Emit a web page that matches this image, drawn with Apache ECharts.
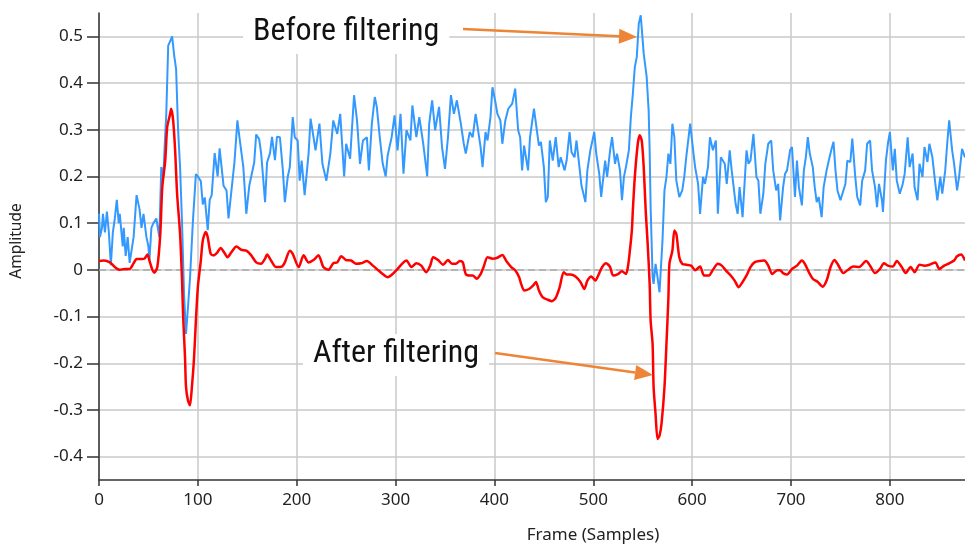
<!DOCTYPE html>
<html>
<head>
<meta charset="utf-8">
<script src="https://cdn.jsdelivr.net/npm/echarts@6/dist/echarts.min.js"></script>
<style>html,body{margin:0;padding:0;background:#fff}#c{width:965px;height:545px}</style>
</head>
<body>
<div id="c"></div>
<script>
var xTicks = [0, 100, 200, 300, 400, 500, 600, 700, 800];
var yTicks = [-0.4, -0.3, -0.2, -0.1, 0, 0.1, 0.2, 0.3, 0.4, 0.5];
var seriesNames = ['Before filtering', 'After filtering'];

var beforeFiltering = [
[0,0.12],[1,0.07],[3,0.09],[4,0.12],[6,0.08],[8,0.125],[10,0.08],[12,0.01],[14,0.08],[16,0.11],[18,0.15],[20,0.1],[21,0.12],[24,0.05],[25,0.09],[27,0.03],[29,0.07],[31,0.015],[35,0.07],[38,0.16],[41,0.13],[43,0.09],[45,0.12],[48,0.07],[50,0.05],[51,0.02],[53,0.09],[55,0.1],[58,0.11],[61,0.07],[63,0.22],[65,0.2],[67,0.29],[68,0.33],[70,0.48],[72,0.49],[74,0.5],[76,0.46],[78,0.43],[80,0.3],[82,0.22],[84,0.1],[86,-0.05],[88,-0.137],[90,-0.08],[92,-0.02],[95,0.105],[98,0.205],
[100,0.2],[103,0.19],[105,0.14],[107,0.155],[110,0.085],[112,0.15],[114,0.16],[117,0.25],[120,0.2],[122,0.26],[126,0.18],[129,0.17],[131,0.11],[134,0.17],[137,0.23],[140,0.32],[142,0.285],[146,0.22],[149,0.12],[152,0.18],[154,0.18],[157,0.23],[159,0.29],[162,0.28],[164,0.25],[168,0.145],[170,0.23],[173,0.25],[175,0.285],[178,0.235],[180,0.285],
[183,0.284],[186,0.213],[188,0.145],[191,0.2],[193,0.22],[196,0.327],[198,0.284],[201,0.277],[203,0.191],[205,0.234],[208,0.16],[212,0.249],[214,0.324],[217,0.284],[219,0.256],[223,0.313],[226,0.227],[230,0.191],[234,0.249],[237,0.32],[241,0.291],[244,0.334],[248,0.2],[250,0.27],[254,0.238],[258,0.374],[261,0.32],[264,0.227],[267,0.277],[271,0.284],[273,0.213],[276,0.313],[279,0.37],[281,0.349],[284,0.284],[287,0.227],[290,0.2],[292,0.245],[296,0.284],[299,0.331],[302,0.256],[305,0.334],[308,0.206],[311,0.299],[315,0.277],[317,0.352],[321,0.284],[324,0.327],[328,0.27],[332,0.2],[334,0.313],[337,0.363],[340,0.299],[344,0.349],[347,0.263],[350,0.216],[353,0.284],[356,0.374],[359,0.334],[362,0.363],
[366,0.313],[369,0.27],[371,0.249],[375,0.295],[378,0.284],[381,0.334],[383,0.338],[386,0.263],[388,0.22],[391,0.295],[393,0.277],[396,0.327],[398,0.391],[401,0.359],[403,0.334],[406,0.32],[408,0.27],[411,0.32],[414,0.345],[418,0.356],[421,0.388],[424,0.299],[426,0.284],[428,0.213],[430,0.266],[434,0.213],[436,0.284],[440,0.345],[442,0.313],[445,0.266],[447,0.274],[450,0.22],[452,0.145],[454,0.156],[456,0.277],[459,0.234],[462,0.284],[465,0.22],[467,0.241],[471,0.213],[473,0.234],[476,0.295],[478,0.252],[481,0.241],[483,0.277],[486,0.22],[488,0.181],[492,0.145],[494,0.213],[497,0.256],[501,0.295],[503,0.249],[506,0.206],[508,0.156],[512,0.234],[514,0.199],
[517,0.256],[519,0.284],[522,0.227],[524,0.249],[527,0.213],[529,0.149],[531,0.199],[533,0.22],[536,0.256],[538,0.327],[540,0.377],[542,0.434],[544,0.456],[546,0.527],[548,0.545],[550,0.541],[551,0.463],[554,0.413],[556,0.341],[557,0.256],[558,0.134],[560,-0.016],[561,-0.03],[563,0.013],[565,-0.016],[567,-0.048],[570,0.063],[572,0.17],[574,0.199],[576,0.249],[578,0.227],[580,0.313],[582,0.284],[584,0.191],[587,0.156],[590,0.17],[592,0.199],[594,0.241],[598,0.313],[601,0.256],[603,0.22],[606,0.184],[608,0.12],[611,0.199],[613,0.184],[616,0.22],[618,0.284],[621,0.256],[624,0.277],[626,0.12],[629,0.241],[633,0.227],[635,0.184],[638,0.256],[640,0.213],[644,0.141],[646,0.12],[648,0.177],[651,0.113],[655,0.256],[657,0.227],[659,0.234],[662,0.291],[665,0.199],[667,0.191],[669,0.12],[672,0.163],[674,0.227],[677,0.27],[680,0.277],[682,0.213],[685,0.17],[687,0.184],[689,0.106],
[692,0.177],[694,0.206],[696,0.213],[699,0.256],[701,0.263],[704,0.156],[706,0.234],[708,0.177],[711,0.138],[713,0.213],[715,0.241],[717,0.284],[719,0.249],[722,0.22],[724,0.177],[726,0.145],[728,0.156],[731,0.113],[733,0.177],[736,0.213],[739,0.241],[741,0.259],[743,0.274],[745,0.213],[747,0.17],[750,0.149],[753,0.17],[755,0.184],[757,0.234],[760,0.231],[762,0.281],[765,0.199],[767,0.156],[770,0.138],[772,0.191],[775,0.213],[777,0.27],[780,0.277],[782,0.213],[785,0.177],[787,0.134],[789,0.184],[792,0.149],[793,0.124],[796,0.234],[798,0.27],[800,0.295],[803,0.213],[805,0.259],[807,0.191],[810,0.163],[813,0.184],[815,0.206],[818,0.284],[820,0.22],[823,0.249],[825,0.177],[828,0.149],[830,0.227],[833,0.199],[835,0.263],[838,0.231],[840,0.27],[843,0.241],[846,0.184],[848,0.149],[851,0.199],[853,0.163],[856,0.213],[858,0.27],[860,0.32],[863,0.256],[865,0.227],[868,0.17],[870,0.199],[873,0.259],[876,0.241]
];

var afterFiltering = [
[0,0.019],[5,0.02],[11,0.016],[16,0.006],[21,0],[26,0.002],[31,0.002],[35,0.014],[38,0.023],[43,0.023],[46,0.024],[49,0.033],[51,0.02],[54,0],[56,-0.006],[59,0.006],[62,0.077],[64,0.177],[67,0.234],[69,0.306],[72,0.334],[73,0.345],[75,0.32],[77,0.256],[79,0.163],[82,0.077],[84,-0.023],[85,-0.094],[87,-0.187],[88,-0.25],[90,-0.28],[92,-0.29],[94,-0.25],[96,-0.194],[98,-0.109],[100,-0.037],[103,0.02],[105,0.063],[108,0.081],[110,0.07],[113,0.034],[116,0.031],[120,0.038],[123,0.047],[127,0.036],[130,0.027],[134,0.038],[139,0.05],[144,0.043],[149,0.041],[154,0.031],[159,0.016],[164,0.013],[168,0.024],[170,0.033],[174,0.02],[179,0.006],[185,0.007],[188,0.016],
[193,0.041],[196,0.034],[202,0.006],[207,0.031],[212,0.016],[217,0.021],[222,0.031],[227,0.006],[232,0],[237,0.014],[241,0.016],[245,0.029],[250,0.021],[255,0.02],[260,0.013],[265,0.014],[271,0.019],[277,0.009],[282,0],[287,-0.009],[292,-0.016],[297,-0.009],[302,0.002],[307,0.014],[311,0.02],[316,0.006],[321,0.014],[326,0.009],[331,-0.005],[335,0.009],[338,0.027],[343,0.021],[348,0.011],[353,0.021],[357,0.013],[361,0.013],
[365,0.019],[368,0.016],[371,-0.009],[375,-0.012],[378,-0.012],[382,-0.019],[386,-0.009],[389,0.006],[393,0.027],[398,0.024],[403,0.026],[408,0.032],[412,0.019],[417,0.006],[421,-0.001],[425,-0.016],[427,-0.03],[430,-0.044],[435,-0.041],[439,-0.034],[442,-0.026],[445,-0.044],[449,-0.059],[454,-0.064],[458,-0.067],[462,-0.06],[466,-0.037],[470,-0.005],[473,-0.01],[477,-0.01],[482,-0.014],[487,-0.026],[491,-0.041],[494,-0.023],[498,-0.014],[502,-0.023],[505,-0.012],[509,0.006],[513,0.014],
[517,0.006],[520,-0.012],[525,-0.009],[529,-0.003],[533,-0.009],[535,0.006],[537,0.041],[539,0.084],[540,0.127],[542,0.199],[545,0.27],[547,0.288],[549,0.277],[551,0.22],[553,0.127],[555,0.056],[557,-0.03],[558,-0.109],[560,-0.159],[561,-0.251],[563,-0.309],[565,-0.362],[567,-0.355],[569,-0.33],[572,-0.251],[574,-0.159],[576,-0.059],[577,0.013],[580,0.041],[582,0.084],[584,0.077],[587,0.027],[590,0.013],[594,0.011],[599,0.009],[603,-0.001],[608,0.007],[612,-0.012],[617,-0.012],[621,0],[626,0.013],[630,0.009],[634,-0.001],[639,-0.012],[643,-0.023],[647,-0.037],[651,-0.026],[655,-0.012],[659,0.006],[663,0.016],[668,0.019],[673,0.02],[677,0.009],[681,-0.009],[686,-0.001],
[689,-0.001],[692,-0.007],[696,-0.01],[701,0.002],[706,0.009],[711,0.02],[714,0.013],[718,-0.005],[722,-0.019],[727,-0.026],[732,-0.036],[736,-0.023],[740,0.006],[744,0.021],[747,0.013],[753,-0.007],[757,-0.001],[763,0.007],[769,0.006],[776,0.019],[780,0.009],[785,-0.007],[790,0.002],[794,0.014],[798,0.009],[803,0.007],[807,0.019],[812,0.006],[816,-0.007],[821,0.006],[825,-0.005],[830,0.011],[835,0.009],[840,0.011],[846,0.016],[850,0.002],[855,0.009],[860,0.014],[865,0.02],[868,0.029],[872,0.033],[876,0.02]
];

var chart = echarts.init(document.getElementById('c'), null, {renderer: 'canvas'});
var FONT = '"Noto Sans", "Open Sans", sans-serif';
var ANN_FONT = '"Liberation Sans Narrow", "Roboto Condensed", Roboto, sans-serif';
var ORANGE = '#EE8436';

function arrow(x1, y1, x2, y2) {
  var ang = Math.atan2(y2 - y1, x2 - x1);
  var L = 18, W = 7.5;
  var bx = x2 - L * Math.cos(ang), by = y2 - L * Math.sin(ang);
  var px = -Math.sin(ang) * W, py = Math.cos(ang) * W;
  return [
    {type: 'line', z: 100, shape: {x1: x1, y1: y1, x2: bx, y2: by}, style: {stroke: ORANGE, lineWidth: 2.5}},
    {type: 'polygon', z: 100, shape: {points: [[x2, y2], [bx + px, by + py], [bx - px, by - py]]}, style: {fill: ORANGE}}
  ];
}

var graphics = [
  {type: 'text', z: 99, left: 243, top: 12, style: {text: seriesNames[0], font: '32px ' + ANN_FONT, fill: '#111', backgroundColor: '#fff', padding: [4, 10, 6, 10]}},
  {type: 'text', z: 99, left: 303, top: 334, style: {text: seriesNames[1], font: '32px ' + ANN_FONT, fill: '#111', backgroundColor: '#fff', padding: [4, 10, 6, 10]}},
  {type: 'text', x: 593, y: 527, style: {text: 'Frame (Samples)', font: '17px ' + FONT, fill: '#222', textAlign: 'center', textVerticalAlign: 'top'}},
  {type: 'text', x: 9, y: 241, rotation: Math.PI / 2, style: {text: 'Amplitude', font: '15.5px ' + FONT, fill: '#222', textAlign: 'center', textVerticalAlign: 'top'}}
].concat(arrow(463, 29, 637, 37)).concat(arrow(495, 353, 653, 375));

chart.setOption({
  animation: false,
  backgroundColor: '#fff',
  grid: {left: 99, right: 0, top: 13, bottom: 65, containLabel: false},
  xAxis: {
    type: 'value', min: 0, max: 876, interval: 100,
    axisLine: {show: true, onZero: false, lineStyle: {color: '#333', width: 1.5}},
    axisTick: {show: true, length: 6, lineStyle: {color: '#333', width: 1.5}, customValues: xTicks},
    axisLabel: {color: '#222', fontSize: 17, fontFamily: FONT, margin: 12, customValues: xTicks},
    splitLine: {show: true, lineStyle: {color: '#c8c8c8', width: 1.5}, customValues: xTicks}
  },
  yAxis: {
    type: 'value', min: -0.45, max: 0.55, splitNumber: 10,
    axisLine: {show: true, lineStyle: {color: '#333', width: 1.5}},
    axisTick: {show: true, length: 12, lineStyle: {color: '#333', width: 1.5}, customValues: yTicks},
    axisLabel: {color: '#222', fontSize: 17, fontFamily: FONT, margin: 16, customValues: yTicks},
    splitLine: {show: true, lineStyle: {color: '#c8c8c8', width: 1.5}, customValues: yTicks}
  },
  series: [
    {name: seriesNames[0], type: 'line', data: beforeFiltering, showSymbol: false, symbol: 'none',
     lineStyle: {color: '#3399ff', width: 2}, z: 3},
    {name: seriesNames[1], type: 'line', data: afterFiltering, showSymbol: false, symbol: 'none', smooth: 0.25,
     lineStyle: {color: '#ff0000', width: 2.5}, z: 4,
     markLine: {silent: true, symbol: 'none', label: {show: false}, animation: false,
       lineStyle: {color: '#aaaaaa', type: [7, 4], width: 1.5}, data: [{yAxis: 0}], z: 2}}
  ],
  graphic: graphics
});
</script>
</body>
</html>
